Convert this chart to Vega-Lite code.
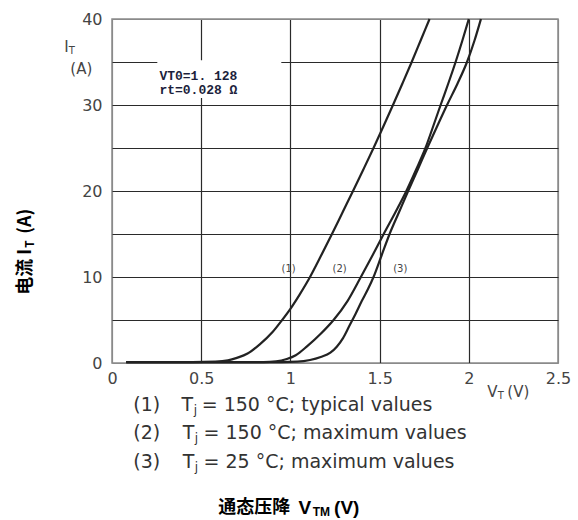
{
  "$schema": "https://vega.github.io/schema/vega-lite/v6.json",
  "width": 446,
  "height": 344,
  "autosize": {"type": "none"},
  "padding": {"left": 112, "top": 19, "right": 20, "bottom": 157},
  "background": "white",
  "config": {"view": {"stroke": "#8a8a8a", "strokeWidth": 1.5}},
  "encoding": {
    "x": {
      "field": "x", "type": "quantitative",
      "scale": {"domain": [0, 2.5], "nice": false, "zero": false},
      "axis": {
        "values": [0, 0.5, 1, 1.5, 2, 2.5], "format": "~g", "title": null,
        "ticks": false, "domain": false, "grid": true,
        "gridColor": {"condition": {"test": "datum.value === 0 || datum.value === 2.5", "value": "#8a8a8a"}, "value": "#2a2a2a"},
        "gridWidth": 1.2, "labelFont": "DejaVu Sans", "labelFontSize": 16, "labelColor": "#444",
        "labelPadding": 7, "labelFlush": false, "labelOverlap": false
      }
    },
    "y": {
      "field": "y", "type": "quantitative",
      "scale": {"domain": [0, 40], "nice": false, "zero": false},
      "axis": {
        "values": [0, 5, 10, 15, 20, 25, 30, 35, 40], "format": "d",
        "labelExpr": "datum.value % 10 === 0 ? datum.label : ''", "title": null,
        "ticks": false, "domain": false, "grid": true,
        "gridColor": {"condition": {"test": "datum.value === 0 || datum.value === 40", "value": "#8a8a8a"}, "value": "#2a2a2a"},
        "gridWidth": 1.2, "labelFont": "DejaVu Sans", "labelFontSize": 16, "labelColor": "#444",
        "labelPadding": 10, "labelOverlap": false
      }
    }
  },
  "layer": [
    {
      "data": {"values": [{"x": 0.254, "x2": 0.949, "y": 30.8, "y2": 35.2}]},
      "mark": {"type": "rect", "fill": "white"},
      "encoding": {"x2": {"field": "x2"}, "y2": {"field": "y2"}}
    },
    {
      "data": {"values": [
        {"c": "1", "x": 0.08, "y": 0.1}, {"c": "1", "x": 0.45, "y": 0.1}, {"c": "1", "x": 0.58, "y": 0.15},
        {"c": "1", "x": 0.65, "y": 0.3}, {"c": "1", "x": 0.70, "y": 0.6}, {"c": "1", "x": 0.76, "y": 1.1},
        {"c": "1", "x": 0.83, "y": 2.2}, {"c": "1", "x": 0.90, "y": 3.6}, {"c": "1", "x": 0.95, "y": 4.9},
        {"c": "1", "x": 1.0, "y": 6.3}, {"c": "1", "x": 1.05, "y": 7.9}, {"c": "1", "x": 1.11, "y": 10},
        {"c": "1", "x": 1.17, "y": 12.4}, {"c": "1", "x": 1.233, "y": 15}, {"c": "1", "x": 1.292, "y": 17.5},
        {"c": "1", "x": 1.351, "y": 20}, {"c": "1", "x": 1.409, "y": 22.5}, {"c": "1", "x": 1.466, "y": 25},
        {"c": "1", "x": 1.521, "y": 27.5}, {"c": "1", "x": 1.575, "y": 30}, {"c": "1", "x": 1.628, "y": 32.5},
        {"c": "1", "x": 1.68, "y": 35}, {"c": "1", "x": 1.73, "y": 37.5}, {"c": "1", "x": 1.78, "y": 40},
        {"c": "2", "x": 0.08, "y": 0.1}, {"c": "2", "x": 0.85, "y": 0.1}, {"c": "2", "x": 0.92, "y": 0.18},
        {"c": "2", "x": 0.98, "y": 0.46}, {"c": "2", "x": 1.03, "y": 0.9}, {"c": "2", "x": 1.093, "y": 1.93},
        {"c": "2", "x": 1.17, "y": 3.4}, {"c": "2", "x": 1.242, "y": 5}, {"c": "2", "x": 1.32, "y": 7.2},
        {"c": "2", "x": 1.395, "y": 10}, {"c": "2", "x": 1.46, "y": 12.5}, {"c": "2", "x": 1.523, "y": 15},
        {"c": "2", "x": 1.588, "y": 17.5}, {"c": "2", "x": 1.65, "y": 20}, {"c": "2", "x": 1.705, "y": 22.5},
        {"c": "2", "x": 1.757, "y": 25}, {"c": "2", "x": 1.80, "y": 27.5}, {"c": "2", "x": 1.842, "y": 30},
        {"c": "2", "x": 1.885, "y": 32.5}, {"c": "2", "x": 1.926, "y": 35}, {"c": "2", "x": 1.964, "y": 37.5},
        {"c": "2", "x": 2.0, "y": 40},
        {"c": "3", "x": 0.08, "y": 0.1}, {"c": "3", "x": 0.95, "y": 0.1}, {"c": "3", "x": 1.04, "y": 0.15},
        {"c": "3", "x": 1.11, "y": 0.35}, {"c": "3", "x": 1.17, "y": 0.7}, {"c": "3", "x": 1.224, "y": 1.2},
        {"c": "3", "x": 1.26, "y": 1.9}, {"c": "3", "x": 1.295, "y": 2.9}, {"c": "3", "x": 1.33, "y": 4.3},
        {"c": "3", "x": 1.365, "y": 5.7}, {"c": "3", "x": 1.40, "y": 7.2}, {"c": "3", "x": 1.435, "y": 8.6},
        {"c": "3", "x": 1.466, "y": 10}, {"c": "3", "x": 1.511, "y": 12.5}, {"c": "3", "x": 1.556, "y": 15},
        {"c": "3", "x": 1.608, "y": 17.5}, {"c": "3", "x": 1.66, "y": 20}, {"c": "3", "x": 1.714, "y": 22.5},
        {"c": "3", "x": 1.767, "y": 25}, {"c": "3", "x": 1.822, "y": 27.5}, {"c": "3", "x": 1.878, "y": 30},
        {"c": "3", "x": 1.937, "y": 32.5}, {"c": "3", "x": 1.99, "y": 35}, {"c": "3", "x": 2.032, "y": 37.5},
        {"c": "3", "x": 2.068, "y": 40}
      ]},
      "mark": {"type": "line", "stroke": "#222", "strokeWidth": 2.2, "interpolate": "monotone"},
      "encoding": {"detail": {"field": "c"}}
    },
    {
      "data": {"values": [
        {"x": 0.99, "y": 10.9, "t": "(1)"}, {"x": 1.276, "y": 10.9, "t": "(2)"}, {"x": 1.616, "y": 10.9, "t": "(3)"}
      ]},
      "mark": {"type": "text", "font": "DejaVu Sans", "fontSize": 10, "fill": "#444", "align": "center", "baseline": "middle"},
      "encoding": {"text": {"field": "t"}}
    },
    {
      "data": {"values": [
        {"x": 0.2657, "y": 33.38, "t": "VT0=1. 128"}, {"x": 0.2657, "y": 31.75, "t": "rt=0.028 Ω"}
      ]},
      "mark": {"type": "text", "font": "Liberation Mono", "fontWeight": "bold", "fontSize": 13, "fill": "#1c1f3c", "align": "left", "baseline": "middle"},
      "encoding": {"text": {"field": "t"}}
    },
    {
      "data": {"values": [
        {"x": 0.1194, "y": -4.85, "t": "(1)"}, {"x": 0.390, "y": -4.85, "t": "T"}, {"x": 0.503, "y": -4.85, "t": "= 150 °C; typical values"},
        {"x": 0.1194, "y": -8.16, "t": "(2)"}, {"x": 0.396, "y": -8.16, "t": "T"}, {"x": 0.513, "y": -8.16, "t": "=  150 °C; maximum values"},
        {"x": 0.1194, "y": -11.47, "t": "(3)"}, {"x": 0.396, "y": -11.47, "t": "T"}, {"x": 0.513, "y": -11.47, "t": "= 25 °C; maximum values"}
      ]},
      "mark": {"type": "text", "font": "DejaVu Sans", "fontSize": 19, "fill": "#333", "align": "left", "baseline": "middle"},
      "encoding": {"text": {"field": "t"}}
    },
    {
      "data": {"values": [
        {"x": 0.458, "y": -4.85, "t": "j"}, {"x": 0.464, "y": -8.16, "t": "j"}, {"x": 0.464, "y": -11.47, "t": "j"}
      ]},
      "mark": {"type": "text", "font": "DejaVu Sans", "fontSize": 12, "fill": "#333", "align": "left", "baseline": "middle", "dy": 5},
      "encoding": {"text": {"field": "t"}}
    },
    {
      "data": {"values": [
        {"x": -0.2674, "y": 36.75, "t": "I"}, {"x": -0.2337, "y": 34.19, "t": "(A)"},
        {"x": 2.1037, "y": -3.33, "t": "V"}, {"x": 2.2158, "y": -3.33, "t": "(V)"}
      ]},
      "mark": {"type": "text", "font": "DejaVu Sans", "fontSize": 15, "fill": "#444", "align": "left", "baseline": "middle"},
      "encoding": {"text": {"field": "t"}}
    },
    {
      "data": {"values": [
        {"x": -0.2422, "y": 36.75, "t": "T"}, {"x": 2.1626, "y": -3.33, "t": "T"}
      ]},
      "mark": {"type": "text", "font": "DejaVu Sans", "fontSize": 10, "fill": "#444", "align": "left", "baseline": "middle", "dy": 4},
      "encoding": {"text": {"field": "t"}}
    },
    {
      "data": {"values": [
        {"x": 0.5958, "y": -16.81, "t": "通态压降"}
      ]},
      "mark": {"type": "text", "font": "Noto Sans CJK SC", "fontWeight": "bold", "fontSize": 18, "fill": "#000", "align": "left", "baseline": "middle"},
      "encoding": {"text": {"field": "t"}}
    },
    {
      "data": {"values": [
        {"x": 1.045, "y": -16.81, "t": "V"}, {"x": 1.245, "y": -16.81, "t": "(V)"}
      ]},
      "mark": {"type": "text", "font": "Liberation Sans", "fontWeight": "bold", "fontSize": 19, "fill": "#000", "align": "left", "baseline": "middle"},
      "encoding": {"text": {"field": "t"}}
    },
    {
      "data": {"values": [
        {"x": 1.125, "y": -16.81, "t": "TM"}
      ]},
      "mark": {"type": "text", "font": "Liberation Sans", "fontWeight": "bold", "fontSize": 12, "fill": "#000", "align": "left", "baseline": "middle", "dy": 4},
      "encoding": {"text": {"field": "t"}}
    },
    {
      "data": {"values": [
        {"x": -0.482, "y": 7.935, "t": "电流 I"}, {"x": -0.482, "y": 15.02, "t": "(A)"}
      ]},
      "mark": {"type": "text", "font": "Noto Sans CJK SC", "fontWeight": "bold", "fontSize": 18, "fill": "#000", "align": "left", "baseline": "middle", "angle": 270},
      "encoding": {"text": {"field": "t"}}
    },
    {
      "data": {"values": [
        {"x": -0.461, "y": 13.39, "t": "T"}
      ]},
      "mark": {"type": "text", "font": "Noto Sans CJK SC", "fontWeight": "bold", "fontSize": 12, "fill": "#000", "align": "left", "baseline": "middle", "angle": 270},
      "encoding": {"text": {"field": "t"}}
    }
  ]
}
